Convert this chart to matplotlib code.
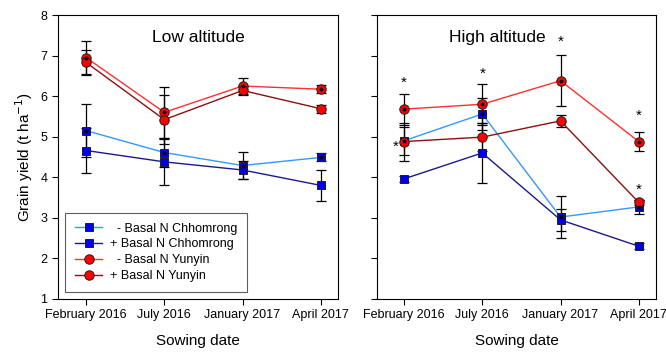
import numpy as np
import matplotlib
matplotlib.use("Agg")
import matplotlib.pyplot as plt

plt.rcParams['font.family'] = ['Liberation Sans', 'DejaVu Sans']

dates = ["February 2016", "July 2016", "January 2017", "April 2017"]
x = np.arange(len(dates))

# low altitude
low_minus_chh = [5.15, 4.61, 4.29, 4.49]
low_minus_chh_err = [0.65, 0.35, 0.33, 0.10]
low_plus_chh = [4.66, 4.38, 4.18, 3.80]
low_plus_chh_err = [0.56, 0.57, 0.22, 0.38]
low_minus_yun = [6.95, 5.60, 6.25, 6.17]
low_minus_yun_err = [0.40, 0.63, 0.20, 0.10]
low_plus_yun = [6.83, 5.42, 6.14, 5.69]
low_plus_yun_err = [0.30, 0.60, 0.10, 0.10]

# high altitude
high_minus_chh = [4.90, 5.56, 3.02, 3.27]
high_minus_chh_err = [0.35, 0.40, 0.51, 0.17]
high_plus_chh = [3.96, 4.60, 2.95, 2.30]
high_plus_chh_err = [0.08, 0.74, 0.27, 0.07]
high_minus_yun = [5.68, 5.80, 6.38, 4.88]
high_minus_yun_err = [0.38, 0.50, 0.63, 0.23]
high_plus_yun = [4.88, 4.99, 5.39, 3.38]
high_plus_yun_err = [0.47, 0.35, 0.15, 0.07]

# significance stars (x index, y)
star_x = [0, -0.1, 1, 2, 3, 3]
star_y = [6.32, 4.74, 6.55, 7.33, 5.51, 3.68]

series = [
    ("  - Basal N Chhomrong", "#3399ff", "s", True),
    ("+ Basal N Chhomrong", "#1a1a8c", "s", False),
    ("  - Basal N Yunyin", "#ff3030", "o", True),
    ("+ Basal N Yunyin", "#8b1010", "o", False),
]

fig = plt.figure(figsize=(6.66, 3.53), dpi=100)
ax1 = fig.add_axes([0.087, 0.153, 0.4205, 0.8045])
ax2 = fig.add_axes([0.566, 0.153, 0.419, 0.8045])

low = [(low_minus_chh, low_minus_chh_err), (low_plus_chh, low_plus_chh_err),
       (low_minus_yun, low_minus_yun_err), (low_plus_yun, low_plus_yun_err)]
high = [(high_minus_chh, high_minus_chh_err), (high_plus_chh, high_plus_chh_err),
        (high_minus_yun, high_minus_yun_err), (high_plus_yun, high_plus_yun_err)]

for ax, data in [(ax1, low), (ax2, high)]:
    for (lab, col, mk, dot), (vals, err) in zip(series, data):
        ax.errorbar(x, vals, yerr=err, fmt="none", ecolor="black",
                    elinewidth=0.9, capsize=3.5, capthick=0.9, zorder=2)
        fc = "#0000ee" if mk == "s" else "#ff0000"
        ax.plot(x, vals, color=col, lw=1.0, marker=mk, ms=5.5 if mk == "s" else 6.8,
                mfc=fc, mec="#202020", mew=0.7, label=lab, zorder=3)
        if dot:
            ax.plot(x, vals, ls="none", marker="o", ms=1.8, color="black", zorder=4)
    ax.set_ylim(1, 8)
    ax.set_xticks(x)
    ax.set_xticklabels(dates, fontsize=9)
    ax.set_yticks(range(1, 9))
    ax.tick_params(direction="out", length=4, width=0.8, top=False, right=False)
    ax.set_xlabel("Sowing date", fontsize=11, labelpad=9)
    for s in ax.spines.values():
        s.set_linewidth(0.8)

ax1.set_xlim(-0.36, 3.22)
ax2.set_xlim(-0.345, 3.22)
ax1.set_yticklabels([str(v) for v in range(1, 9)], fontsize=9)
ax2.set_yticklabels([])
ax1.set_ylabel("Grain yield (t ha$^{-1}$)", fontsize=11)

ax1.text(0.5, 0.92, "Low altitude", transform=ax1.transAxes, ha="center", va="center", fontsize=12.5)
ax2.text(0.43, 0.92, "High altitude", transform=ax2.transAxes, ha="center", va="center", fontsize=12.5)

for sx, sy in zip(star_x, star_y):
    ax2.text(sx, sy, "*", ha="center", va="center", fontsize=11)

leg = ax1.legend(loc="lower left", bbox_to_anchor=(0.025, 0.025), borderaxespad=0,
                 fontsize=9, frameon=True, fancybox=False, edgecolor="#333333",
                 handlelength=2.2, handletextpad=0.6, borderpad=0.8, labelspacing=0.3)
leg.get_frame().set_linewidth(0.8)

fig.savefig("out.png", dpi=100)
